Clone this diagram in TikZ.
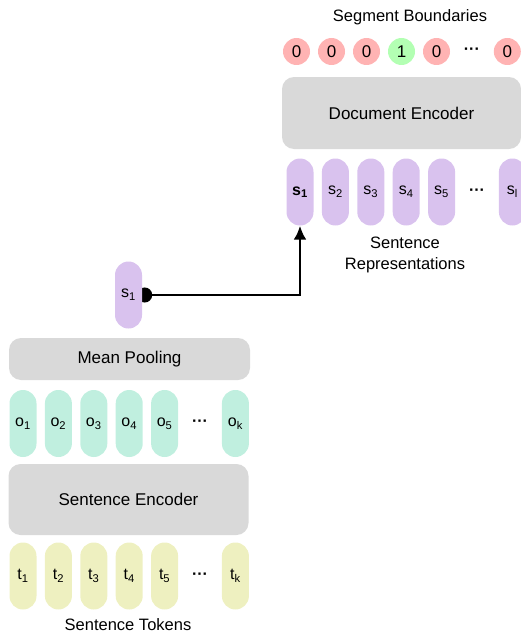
\documentclass[tikz,border=0pt]{standalone}
\usepackage{fontspec}
\setmainfont{Liberation Sans}
\usetikzlibrary{arrows.meta,positioning,backgrounds}

\definecolor{zeropink}{HTML}{FFB3B3}
\definecolor{onegreen}{HTML}{B3FFB3}
\definecolor{reprpurple}{HTML}{D9C2EE}
\definecolor{outteal}{HTML}{C0EFDF}
\definecolor{tokyellow}{HTML}{EEF0C0}
\definecolor{boxgray}{HTML}{D9D9D9}

\tikzset{
  tile/.style={fill=#1, rounded corners=13.5pt, minimum width=27pt,
    minimum height=67pt, inner sep=0pt, font=\fontsize{16}{18}\selectfont},
  bit/.style={circle, fill=#1, minimum size=27pt, inner sep=0pt,
    font=\fontsize{17}{19}\selectfont},
  dots/.style={minimum width=27pt, inner sep=0pt, font=\fontsize{16}{18}\selectfont\bfseries},
  block/.style={fill=boxgray, rounded corners=12pt, inner sep=0pt,
    font=\fontsize{17}{19}\selectfont},
  caption/.style={font=\fontsize{16.5}{21}\selectfont, align=center},
}

\begin{document}
\begin{tikzpicture}[x=1pt,y=-1pt,node distance=8pt]
  \useasboundingbox (0,0) rectangle (521,634);

  % document level
  \node[caption] (segcap) at (410,17) {Segment Boundaries};
  \foreach \i/\b in {1/0,2/0,3/0,4/1,5/0}{
    \ifnum\b=1 \def\bc{onegreen}\else \def\bc{zeropink}\fi
    \node[bit=\bc] (b\i) at ({296.5+35*(\i-1)},51.5) {\b};
  }
  \node[dots] (bdots) [right=of b5] {···};
  \node[bit=zeropink] (bl) [right=of bdots] {0};

  \node[block, minimum width=239pt, minimum height=72pt] (docenc) at (401.5,113) {Document Encoder};

  \node[tile=reprpurple] (s1) at (300,192) {\textbf{s\textsubscript{1}}};
  \foreach \i [evaluate=\i as \j using int(\i-1)] in {2,...,5}
    \node[tile=reprpurple] (s\i) [right=of s\j] {s\textsubscript{\i}};
  \node[dots] (sdots) [right=of s5] {···};
  \node[tile=reprpurple] (sl) [right=of sdots] {s\textsubscript{l}};
  \node[caption] (reprcap) at (405,255) {Sentence\\Representations};

  % sentence level
  \node[tile=reprpurple] (pooled) at (128.5,295) {s\textsubscript{1}};

  \node[block, minimum width=241pt, minimum height=42pt] (pool) at (129.5,359) {Mean Pooling};

  \node[tile=outteal] (o1) at (23,423.5) {o\textsubscript{1}};
  \foreach \i [evaluate=\i as \j using int(\i-1)] in {2,...,5}
    \node[tile=outteal] (o\i) [right=of o\j] {o\textsubscript{\i}};
  \node[dots] (odots) [right=of o5] {···};
  \node[tile=outteal] (ok) [right=of odots] {o\textsubscript{k}};

  \node[block, minimum width=240pt, minimum height=71pt] (sentenc) at (128.5,499.5) {Sentence Encoder};

  \node[tile=tokyellow] (t1) at (23,576) {t\textsubscript{1}};
  \foreach \i [evaluate=\i as \j using int(\i-1)] in {2,...,5}
    \node[tile=tokyellow] (t\i) [right=of t\j] {t\textsubscript{\i}};
  \node[dots] (tdots) [right=of t5] {···};
  \node[tile=tokyellow] (tk) [right=of tdots] {t\textsubscript{k}};
  \node[caption] (tokcap) at (128,625) {Sentence Tokens};

  % pooled vector feeds the document encoder
  \begin{scope}[on background layer]
    \draw[line width=2.8pt, {Circle[length=15pt]}-{Latex[length=14pt,width=13pt]}]
      ([xshift=-5pt]pooled.east) -| (s1.south);
  \end{scope}
\end{tikzpicture}
\end{document}
